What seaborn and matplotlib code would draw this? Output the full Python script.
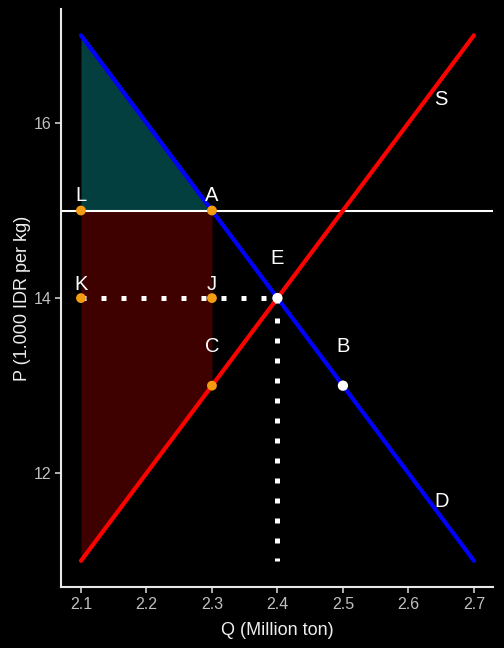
import matplotlib
matplotlib.use("Agg")
import matplotlib.pyplot as plt
import seaborn as sns
import pandas as pd

# ---- data ----
demand_q = [2.1, 2.7]
demand_p = [17.0, 11.0]
supply_q = [2.1, 2.7]
supply_p = [11.0, 17.0]
price_line = 15.0

cs_q = [2.1, 2.3]
cs_upper = [17.0, 15.0]
cs_lower = [15.0, 15.0]

loss_q = [2.1, 2.3]
loss_upper = [15.0, 15.0]
loss_lower = [11.0, 13.0]

dot_h_q = [2.1, 2.4]
dot_h_p = [14.0, 14.0]
dot_v_q = [2.4, 2.4]
dot_v_p = [14.0, 11.0]

orange_names = ["L", "A", "K", "J", "C"]
orange_q = [2.1, 2.3, 2.1, 2.3, 2.3]
orange_p = [15.0, 15.0, 14.0, 14.0, 13.0]

white_names = ["E", "B"]
white_q = [2.4, 2.5]
white_p = [14.0, 13.0]

label_names = ["L", "A", "K", "J", "C", "E", "B", "S", "D"]
label_q = [2.1, 2.3, 2.1, 2.3, 2.3, 2.4, 2.5, 2.65, 2.65]
label_p = [15.17, 15.17, 14.15, 14.15, 13.45, 14.45, 13.45, 16.27, 11.68]

x_ticks = [2.1, 2.2, 2.3, 2.4, 2.5, 2.6, 2.7]
y_ticks = [12, 14, 16]

# ---- plot ----
sns.set_theme(style="white")
plt.rcParams['font.family'] = ['Liberation Sans', 'DejaVu Sans']

fig = plt.figure(figsize=(5.04, 6.48), dpi=100, facecolor="black")
ax = fig.add_axes([0.121, 0.094, 0.857, 0.892])
ax.set_facecolor("black")

ax.fill_between(cs_q, cs_lower, cs_upper, color="#033F3F", linewidth=0, zorder=1)
ax.fill_between(loss_q, loss_lower, loss_upper, color="#3F0000", linewidth=0, zorder=1)

ax.axhline(price_line, color="white", linewidth=1.5, zorder=2)

dem = pd.DataFrame({"Q": demand_q, "P": demand_p})
sup = pd.DataFrame({"Q": supply_q, "P": supply_p})
sns.lineplot(data=sup, x="Q", y="P", color="#FF0000", linewidth=3.0, ax=ax, zorder=3)
sns.lineplot(data=dem, x="Q", y="P", color="#0000FF", linewidth=3.0, ax=ax, zorder=3)

for qq, pp in [(dot_h_q, dot_h_p), (dot_v_q, dot_v_p)]:
    ln, = ax.plot(qq, pp, color="white", linewidth=3.6, zorder=4,
                  dash_capstyle="butt", solid_capstyle="butt")
    ln.set_linestyle((0, (1.0, 3.0)))

od = pd.DataFrame({"Q": orange_q, "P": orange_p})
wd = pd.DataFrame({"Q": white_q, "P": white_p})
sns.scatterplot(data=od, x="Q", y="P", color="#F39C12", s=50, edgecolor="none", ax=ax, zorder=5)
sns.scatterplot(data=wd, x="Q", y="P", color="white", s=55, edgecolor="none", ax=ax, zorder=5)

for name, qq, pp in zip(label_names, label_q, label_p):
    ax.text(qq, pp, name, color="white", fontsize=14.5, ha="center", va="center", zorder=6)

ax.set_xlim(2.0695, 2.729)
ax.set_ylim(10.70, 17.30)
ax.set_xticks(x_ticks)
ax.set_xticklabels([f"{t:.1f}" for t in x_ticks])
ax.set_yticks(y_ticks)
ax.set_yticklabels([str(t) for t in y_ticks])

for side in ["top", "right"]:
    ax.spines[side].set_visible(False)
for side in ["left", "bottom"]:
    ax.spines[side].set_visible(True)
    ax.spines[side].set_color("#E8E8E8")
    ax.spines[side].set_linewidth(1.5)

ax.tick_params(axis="both", colors="#CCCCCC", labelcolor="#C0C0C0", length=4, width=1.2,
               labelsize=11.5, direction="out", left=True, bottom=True, pad=3)
ax.set_xlabel("Q (Million ton)", color="#EEEEEE", fontsize=13, labelpad=7)
ax.set_ylabel("P (1.000 IDR per kg)", color="#EEEEEE", fontsize=13, labelpad=2)
ax.grid(False)

fig.savefig("out.png", dpi=100, facecolor="black")
